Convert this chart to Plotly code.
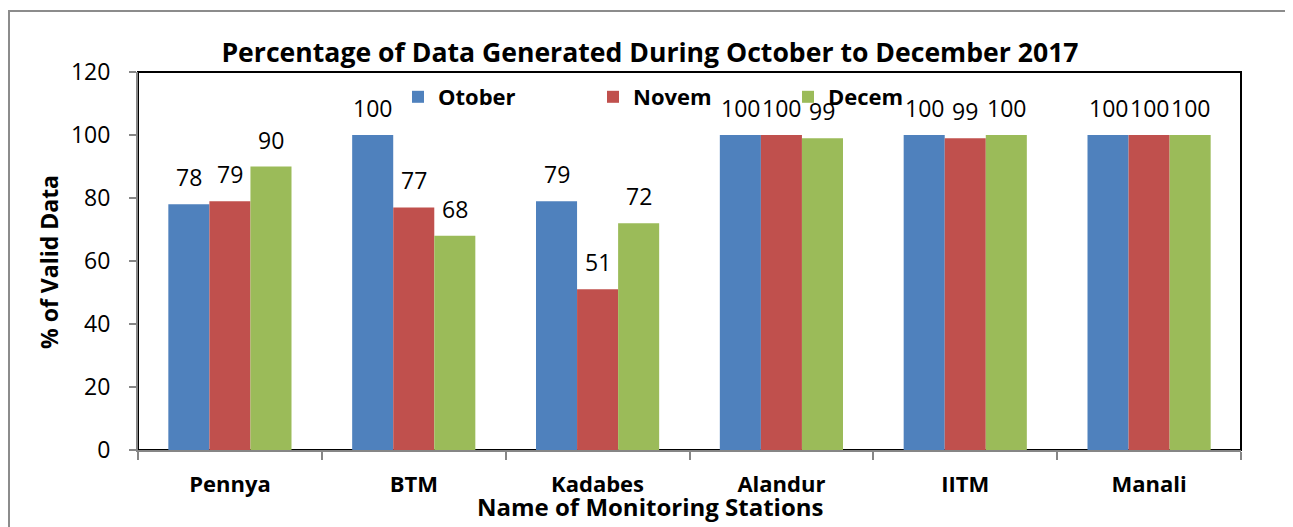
import plotly.graph_objects as go

stations = ["Pennya", "BTM", "Kadabes", "Alandur", "IITM", "Manali"]
series_names = ["Otober", "Novem", "Decem"]
october = [78, 100, 79, 100, 100, 100]
november = [79, 77, 51, 100, 99, 100]
december = [90, 68, 72, 99, 100, 100]
colors = ["#4F81BD", "#C0504D", "#9BBB59"]
y_ticks = [0, 20, 40, 60, 80, 100, 120]

FONT = "Open Sans"
bargap = 0.33
series = [october, november, december]

fig = go.Figure()
for name, vals, col in zip(series_names, series, colors):
    fig.add_trace(go.Bar(name="<b>" + name + "</b>", x=stations, y=vals,
                         marker=dict(color=col, line=dict(width=0))))

# data labels above each bar
bw = (1 - bargap) / len(series)
annotations = []
for j, vals in enumerate(series):
    for i, v in enumerate(vals):
        annotations.append(dict(
            x=i + (j - 1) * bw, y=v, xref="x", yref="y", text=str(v),
            showarrow=False, yshift=27, font=dict(family=FONT, size=23, color="black")))

W, H = 1293, 527
L, T = 130, 64
R = W - 1233
B = H - 442
pw, ph = W - L - R, H - T - B

# axis titles as paper annotations
annotations.append(dict(
    text="<b>Name of Monitoring Stations</b>", xref="paper", yref="paper",
    x=(642 - L) / pw, y=(442 - 498) / ph, xanchor="center", yanchor="middle",
    showarrow=False, font=dict(family=FONT, size=24, color="black")))
annotations.append(dict(
    text="<b>% of Valid Data</b>", xref="paper", yref="paper",
    x=(41 - L) / pw, y=(442 - 254) / ph, xanchor="center", yanchor="middle", textangle=-90,
    showarrow=False, font=dict(family=FONT, size=23, color="black")))

fig.update_layout(
    width=W, height=H,
    margin=dict(l=L, r=R, t=T, b=B),
    paper_bgcolor="white", plot_bgcolor="white",
    barmode="group", bargap=bargap, bargroupgap=0,
    font=dict(family=FONT, color="black"),
    title=dict(text="<b>Percentage of Data Generated During October to December 2017</b>",
               x=(642 - L) / pw, xref="paper", xanchor="center",
               y=1 - 45 / H, yanchor="middle",
               font=dict(family=FONT, size=26.6, color="black")),
    legend=dict(orientation="h", x=(260) / pw, xanchor="left", y=(442 - 89) / ph, yanchor="middle",
                entrywidth=150, entrywidthmode="pixels", bgcolor="rgba(0,0,0,0)",
                font=dict(family=FONT, size=22, color="black"), itemwidth=30,
                traceorder="normal"),
    annotations=annotations,
    showlegend=True,
)

fig.update_xaxes(
    type="category", showline=True, linecolor="#868686", linewidth=2,
    ticks="outside", tickson="boundaries", ticklen=8, tickcolor="#868686", tickwidth=2,
    tickfont=dict(family=FONT, size=22, color="black"), ticklabelstandoff=14,
    tickvals=stations, ticktext=["<b>" + s + "</b>" for s in stations],
    showgrid=False, range=[-0.5, 5.5],
)
fig.update_yaxes(
    range=[0, 120], tickvals=y_ticks, showline=True, linecolor="#868686", linewidth=2,
    ticks="outside", ticklen=7, tickcolor="#868686", tickwidth=2,
    tickfont=dict(family=FONT, size=23, color="black"), ticklabelstandoff=14,
    showgrid=False, zeroline=False,
)

# plot area border (top/right black) and outer chart border
fig.add_shape(type="rect", xref="paper", yref="paper", x0=0, x1=1, y0=0, y1=1,
              line=dict(color="black", width=2), layer="below")
fig.add_shape(type="rect", xref="paper", yref="paper",
              x0=(1 - L) / pw, x1=(1284 - L) / pw, y0=-(H + 10 - 442) / ph, y1=(442 - 3) / ph,
              line=dict(color="#8C8C8C", width=2), layer="below")

fig.write_html("out.html")
